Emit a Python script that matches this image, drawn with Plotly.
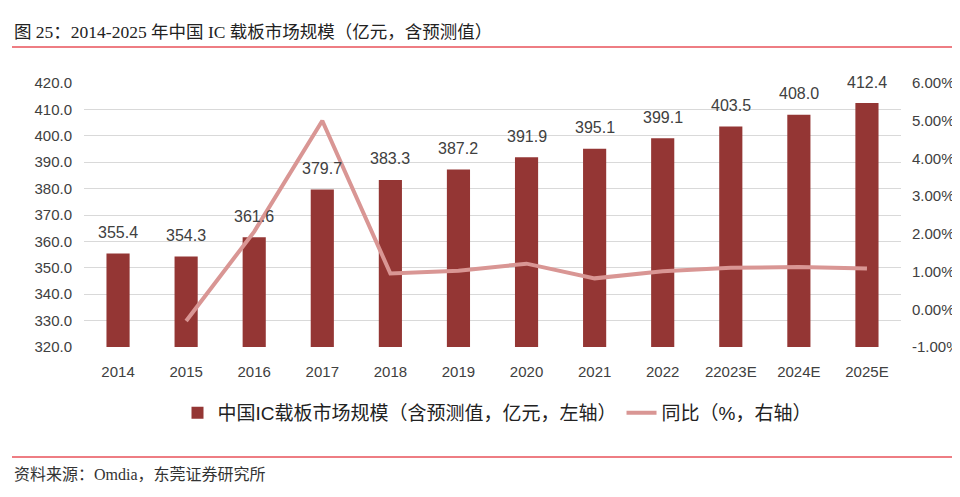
import plotly.graph_objects as go

categories = ["2014", "2015", "2016", "2017", "2018", "2019", "2020", "2021", "2022", "22023E", "2024E", "2025E"]
market_size = [355.4, 354.3, 361.6, 379.7, 383.3, 387.2, 391.9, 395.1, 399.1, 403.5, 408.0, 412.4]
yoy_pct = [None, -0.31, 2.06, 5.00, 0.95, 1.02, 1.21, 0.82, 1.01, 1.10, 1.12, 1.08]
left_ticks = [320, 330, 340, 350, 360, 370, 380, 390, 400, 410, 420]
right_ticks = [-1, 0, 1, 2, 3, 4, 5, 6]

BAR = "#943634"
LINE = "#D99694"
TXT = "#404040"
FONT = "Liberation Sans, Noto Sans CJK SC, sans-serif"
SERIF = "Liberation Serif, Noto Sans CJK SC, serif"

# page body adds an 8px offset; figure-internal coordinates = screen - 8
OFF = 8
W, H = 960, 497
ML, MR, MT, MB = 84 - OFF, W - (901 - OFF), 83 - OFF, H - (347 - OFF)
plot_h = H - MT - MB
plot_w = W - ML - MR
def py(pix):
    return (H - MB - (pix - OFF)) / plot_h
def px(pix):
    return ((pix - OFF) - ML) / plot_w

fig = go.Figure()
fig.add_trace(go.Bar(
    x=categories, y=market_size, name="中国IC载板市场规模（含预测值，亿元，左轴）",
    marker=dict(color=BAR, line=dict(width=0)), width=0.34, yaxis="y",
))
fig.add_trace(go.Scatter(
    x=categories, y=yoy_pct, name="同比（%，右轴）", mode="lines",
    line=dict(color=LINE, width=4), yaxis="y2",
))

annotations = []
for i, v in enumerate(market_size):
    annotations.append(dict(x=i, y=v, xref="x", yref="y", text=f"{v:.1f}",
                            showarrow=False, yshift=21, yanchor="middle",
                            font=dict(size=16, color=TXT, family=FONT)))

annotations.append(dict(x=px(12), y=py(32), xref="paper", yref="paper", xanchor="left", yanchor="middle",
                        text="图 25：2014-2025 年中国 IC 载板市场规模（亿元，含预测值）", showarrow=False,
                        font=dict(size=17.5, color="#222222", family=SERIF)))
annotations.append(dict(x=px(12), y=py(474), xref="paper", yref="paper", xanchor="left", yanchor="middle",
                        text="资料来源：Omdia，东莞证券研究所", showarrow=False,
                        font=dict(size=16, color="#333333", family=SERIF)))

fig.update_layout(
    width=W, height=H,
    margin=dict(l=ML, r=MR, t=MT, b=MB, autoexpand=False),
    paper_bgcolor="white", plot_bgcolor="white",
    font=dict(family=FONT, color=TXT, size=14),
    showlegend=True,
    legend=dict(orientation="h", x=px(497), xanchor="center", y=py(413), yanchor="middle",
                font=dict(size=19, color="#222222"), traceorder="normal"),
    xaxis=dict(type="category", categoryorder="array", categoryarray=categories,
               range=[-0.5, len(categories) - 0.5], automargin=False,
               showgrid=False, showline=False, ticks="",
               tickfont=dict(size=15, color=TXT), ticklabelstandoff=14),
    yaxis=dict(range=[320, 420], tickvals=left_ticks, ticktext=[f"{t:.1f}" for t in left_ticks],
               showgrid=True, gridcolor="#D9D9D9", gridwidth=1, zeroline=False, showline=False,
               automargin=False,
               tickfont=dict(size=15, color=TXT), ticks="", ticklabelstandoff=11),
    yaxis2=dict(range=[-1, 6], tickvals=right_ticks, ticktext=[f"{t:.2f}%" for t in right_ticks],
                overlaying="y", side="right", showgrid=False, zeroline=False, showline=False,
                automargin=False,
                tickfont=dict(size=15, color=TXT), ticks="", ticklabelstandoff=10),
    annotations=annotations,
)

fig.add_shape(type="line", xref="paper", yref="paper", x0=px(12), x1=px(955), y0=py(47), y1=py(47),
              line=dict(color="#E8525A", width=1.5))
fig.add_shape(type="line", xref="paper", yref="paper", x0=px(12), x1=px(955), y0=py(457), y1=py(457),
              line=dict(color="#E8525A", width=1.5))

fig.write_html("out.html")
